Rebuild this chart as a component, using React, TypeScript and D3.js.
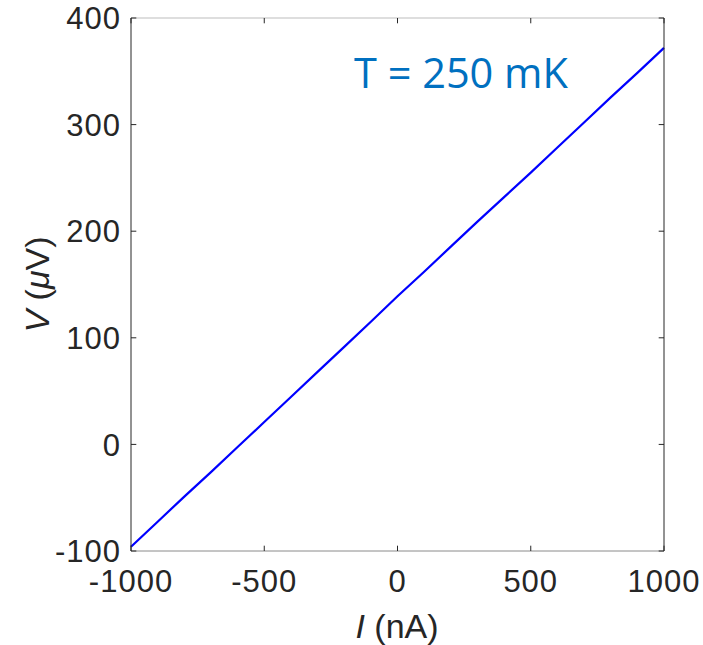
import React from "react";
import * as d3 from "d3";

const currents = [-1000, -900, -800, -700, -600, -500, -400, -300, -200, -100, 0, 100, 200, 300, 400, 500, 600, 700, 800, 900, 1000];
const voltages = [-96, -72.5, -49, -26, -2.5, 21, 44.5, 68, 91.5, 115, 139, 162, 185.5, 209, 232, 255, 278.5, 302, 325.5, 348.5, 372];
const xTicks = [-1000, -500, 0, 500, 1000];
const yTicks = [-100, 0, 100, 200, 300, 400];
const annotation = "T = 250 mK";

export default function App() {
  const W = 703, H = 645;
  const L = 131, R = 664, T = 18, B = 551;
  const x = d3.scaleLinear().domain([-1000, 1000]).range([L, R]);
  const y = d3.scaleLinear().domain([-100, 400]).range([B, T]);
  const line = d3.line<number>().x((_, i) => x(currents[i])).y((d) => y(d));
  const tk = 5.3;
  const txt = "#262626";
  const font = "'Liberation Sans', Arial, sans-serif";
  return (
    <svg width={W} height={H} style={{ position: "absolute", left: 0, top: 0 }}>
      <rect width={W} height={H} fill="#fff" />
      <path d={line(voltages) || ""} fill="none" stroke="#0000ff" strokeWidth={2.2} />
      <line x1={L} x2={R} y1={T} y2={T} stroke="#bdbdbd" strokeWidth={1} />
      <line x1={L} x2={R} y1={B} y2={B} stroke="#8a8a8a" strokeWidth={1} />
      <line x1={L} x2={L} y1={T} y2={B} stroke={txt} strokeWidth={1} />
      <line x1={R} x2={R} y1={T} y2={B} stroke={txt} strokeWidth={1} />
      {xTicks.map((t) => (
        <g key={"x" + t}>
          <line x1={x(t)} x2={x(t)} y1={B} y2={B - tk} stroke={txt} />
          <line x1={x(t)} x2={x(t)} y1={T} y2={T + tk} stroke={txt} />
          <text x={x(t)} y={592} textAnchor="middle" fontSize={31} letterSpacing={1} fill={txt} fontFamily={font}>
            {t}
          </text>
        </g>
      ))}
      {yTicks.map((t) => (
        <g key={"y" + t}>
          <line x1={L} x2={L + tk} y1={y(t)} y2={y(t)} stroke={txt} />
          <line x1={R} x2={R - tk} y1={y(t)} y2={y(t)} stroke={txt} />
          <text x={121} y={y(t)} dy="0.36em" textAnchor="end" fontSize={31} letterSpacing={1} fill={txt} fontFamily={font}>
            {t}
          </text>
        </g>
      ))}
      <text x={397} y={638} textAnchor="middle" fontSize={34} fill={txt} fontFamily={font}>
        <tspan fontStyle="italic">I</tspan> (nA)
      </text>
      <text transform={`translate(49, ${(T + B) / 2}) rotate(-90)`} textAnchor="middle" fontSize={34} fill={txt} fontFamily={font}>
        <tspan fontStyle="italic">V</tspan> (<tspan fontStyle="italic">μ</tspan>V)
      </text>
      <text x={354} y={88} fontSize={41.5} fill="#0070c0" fontFamily="'Open Sans', sans-serif">
        {annotation}
      </text>
    </svg>
  );
}
